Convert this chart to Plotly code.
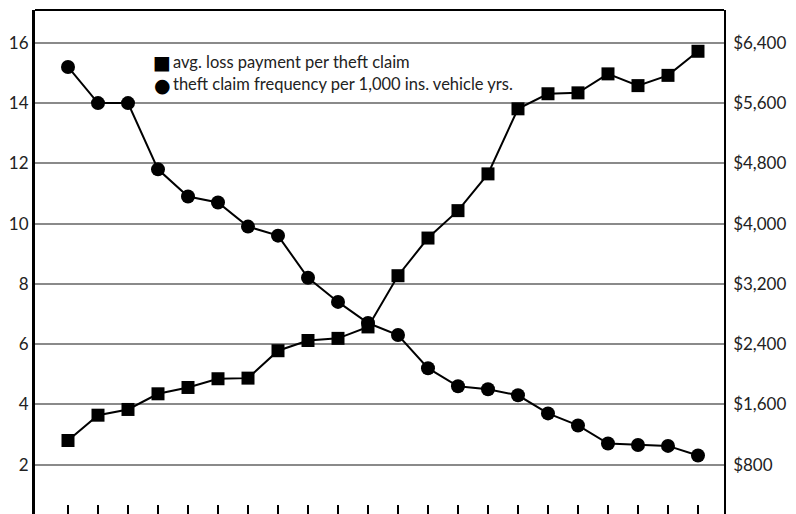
import plotly.graph_objects as go

periods = list(range(1, 23))

# avg. loss payment per theft claim (dollars, right axis)
loss_payment = [1120, 1456, 1532, 1740, 1824, 1940, 1948, 2312, 2448, 2476,
                2628, 3308, 3808, 4172, 4660, 5524, 5724, 5736, 5988, 5832,
                5968, 6288]

# theft claim frequency per 1,000 insured vehicle years (left axis)
claim_freq = [15.2, 14.0, 14.0, 11.8, 10.9, 10.7, 9.9, 9.6, 8.2, 7.4,
              6.7, 6.3, 5.2, 4.6, 4.5, 4.3, 3.7, 3.3, 2.7, 2.65,
              2.62, 2.3]

left_ticks = [2, 4, 6, 8, 10, 12, 14, 16]
right_ticks = [800, 1600, 2400, 3200, 4000, 4800, 5600, 6400]
right_ticktext = ["${:,}".format(v) for v in right_ticks]

legend_labels = ["avg. loss payment per theft claim",
                 "theft claim frequency per 1,000 ins. vehicle yrs."]

FONT = "Lato, 'Open Sans', sans-serif"
Y_LO, Y_HI = 0.36, 17.09
TXT = "#222"

fig = go.Figure()
fig.add_trace(go.Scatter(
    x=periods, y=claim_freq, mode="lines+markers", name=legend_labels[1],
    line=dict(color="black", width=2),
    marker=dict(symbol="circle", size=14, color="black"),
    yaxis="y", showlegend=False))
fig.add_trace(go.Scatter(
    x=periods, y=loss_payment, mode="lines+markers", name=legend_labels[0],
    line=dict(color="black", width=2),
    marker=dict(symbol="square", size=13, color="black"),
    yaxis="y2", showlegend=False))

fig.update_layout(
    width=796, height=514,
    margin=dict(l=35, r=72, t=10, b=0, autoexpand=False),
    paper_bgcolor="white", plot_bgcolor="white",
    font=dict(family=FONT, size=16, color=TXT),
    xaxis=dict(range=[-0.1, 22.867], tickvals=periods, showticklabels=False,
               ticks="inside", ticklen=9, tickwidth=2, tickcolor="black",
               showgrid=False, zeroline=False, showline=False, automargin=False),
    yaxis=dict(range=[Y_LO, Y_HI], tickvals=left_ticks, ticks="",
               showgrid=True, gridcolor="#8a8a8a", gridwidth=1.5,
               zeroline=False, showline=True, linecolor="black", linewidth=3,
               automargin=False,
               tickfont=dict(size=17, family=FONT, color=TXT)),
    yaxis2=dict(range=[Y_LO * 400, Y_HI * 400], tickvals=right_ticks,
                ticktext=right_ticktext, overlaying="y", side="right",
                ticks="outside", ticklen=4, tickcolor="rgba(0,0,0,0)",
                showgrid=False, zeroline=False, showline=True,
                linecolor="black", linewidth=1.5, automargin=False,
                tickfont=dict(size=17, family=FONT, color=TXT)),
    shapes=[dict(type="line", xref="paper", yref="paper", x0=0, x1=1, y0=1, y1=1,
                 line=dict(color="black", width=2))],
    annotations=[
        dict(text="■", xref="paper", yref="y", x=(162 - 35) / 689, y=16 - (62 - 43.3) / 30.1,
             xanchor="center", yanchor="middle", showarrow=False,
             font=dict(size=19, family="DejaVu Sans", color="black")),
        dict(text="●", xref="paper", yref="y", x=(162 - 35) / 689, y=16 - (85 - 43.3) / 30.1,
             xanchor="center", yanchor="middle", showarrow=False,
             font=dict(size=19, family="DejaVu Sans", color="black")),
        dict(text=legend_labels[0], xref="paper", yref="y", x=(171 - 35) / 689,
             y=16 - (62 - 43.3) / 30.1,
             xanchor="left", yanchor="middle", showarrow=False,
             font=dict(size=16.5, family=FONT, color=TXT)),
        dict(text=legend_labels[1], xref="paper", yref="y", x=(171 - 35) / 689,
             y=16 - (84 - 43.3) / 30.1,
             xanchor="left", yanchor="middle", showarrow=False,
             font=dict(size=16.5, family=FONT, color=TXT)),
    ],
)

fig.write_html("out.html", config={"displayModeBar": False},
               post_script="document.body.style.margin='0';document.body.style.overflow='hidden';")
